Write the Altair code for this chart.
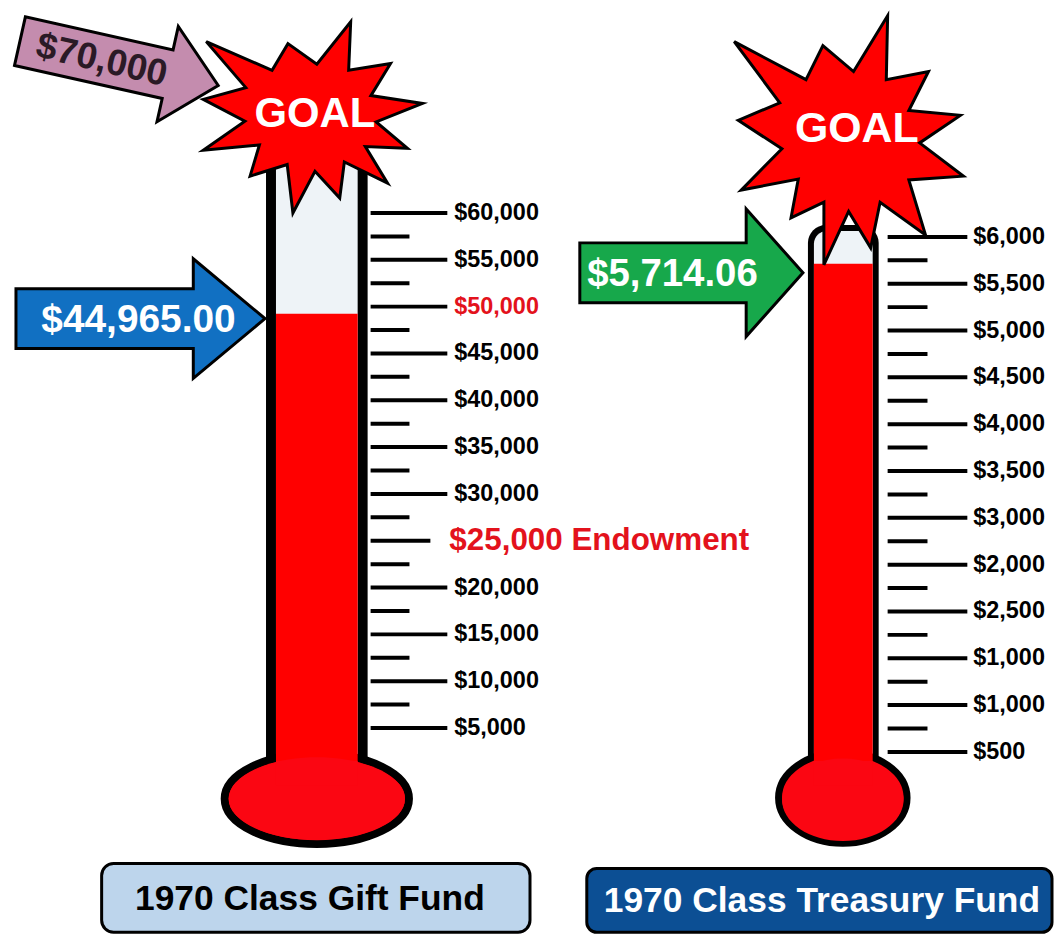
import math
import altair as alt
import pandas as pd

# ---------------------------------------------------------------- data
gift_major_values = [5000, 10000, 15000, 20000, 30000, 35000, 40000, 45000, 50000, 55000, 60000]
gift_major_labels = ["$5,000", "$10,000", "$15,000", "$20,000", "$30,000", "$35,000",
                     "$40,000", "$45,000", "$50,000", "$55,000", "$60,000"]
gift_minor_values = [7500, 12500, 17500, 22500, 27500, 32500, 37500, 42500, 47500, 52500, 57500]
gift_red_label = "$50,000"
gift_endowment_value = [25000]
gift_endowment_label = ["$25,000 Endowment"]
gift_fill_level = [49250]
gift_amount_label = ["$44,965.00"]
gift_goal_label = ["$70,000"]
gift_title = ["1970 Class Gift Fund"]

treasury_major_values = [500, 1000, 1500, 2000, 2500, 3000, 3500, 4000, 4500, 5000, 5500, 6000]
treasury_major_labels = ["$500", "$1,000", "$1,000", "$2,500", "$2,000", "$3,000",
                         "$3,500", "$4,000", "$4,500", "$5,000", "$5,500", "$6,000"]
treasury_minor_values = [750, 1250, 1750, 2250, 2750, 3250, 3750, 4250, 4750, 5250, 5750]
treasury_fill_level = [5714.06]
treasury_amount_label = ["$5,714.06"]
treasury_title = ["1970 Class Treasury Fund"]

goal_text = "GOAL"

# ---------------------------------------------------------------- layout
W, H, M = 1046, 918, 8
FONT = "Liberation Sans"
RED = "#ff0000"
BULB = "#fb0612"
GLASS = "#eef3f7"
LABEL_SIZE = 23.5

px_x = alt.Scale(domain=[M, M + W], nice=False, zero=False)
px_y = alt.Scale(domain=[M, M + H], reverse=True, nice=False, zero=False)


def dollar_scale(v_hi, y_hi, v_lo, y_lo):
    k = (y_lo - y_hi) / (v_hi - v_lo)
    top = v_hi + (y_hi - M) / k
    bottom = v_lo - (M + H - y_lo) / k
    return alt.Scale(domain=[bottom, top], nice=False, zero=False)


gift_scale = dollar_scale(60000, 210, 5000, 727)
treasury_scale = dollar_scale(6000, 234, 500, 751)


def X(field="x"):
    return alt.X(f"{field}:Q", scale=px_x, axis=None)


def Y(field="y"):
    return alt.Y(f"{field}:Q", scale=px_y, axis=None)


def rect(x1, x2, y1, y2, **kw):
    df = pd.DataFrame({"x": [x1], "x2": [x2], "y": [y1], "y2": [y2]})
    return alt.Chart(df).mark_rect(**kw).encode(x=X(), x2="x2:Q", y=Y(), y2="y2:Q")


def polygon(points, **kw):
    df = pd.DataFrame({"x": [p[0] for p in points], "y": [p[1] for p in points],
                       "i": list(range(len(points)))})
    return alt.Chart(df).mark_line(interpolate="linear-closed", strokeJoin="miter", **kw).encode(
        x=X(), y=Y(), order="i:Q")


def text(label, x, y, **kw):
    df = pd.DataFrame({"x": [x], "y": [y], "t": label})
    return alt.Chart(df).mark_text(font=FONT, fontWeight="bold", **kw).encode(x=X(), y=Y(), text="t:N")


def ellipse(cx, cy, width, ratio, **kw):
    path = f"M-1,0A1,{ratio},0,1,1,1,0A1,{ratio},0,1,1,-1,0Z"
    df = pd.DataFrame({"x": [cx], "y": [cy]})
    return alt.Chart(df).mark_point(shape=path, size=width * width, filled=True, opacity=1, **kw).encode(
        x=X(), y=Y())


def arrow(tail, tip, shaft_half, head_half, head_len):
    ux, uy = tip[0] - tail[0], tip[1] - tail[1]
    L = math.hypot(ux, uy)
    ux, uy = ux / L, uy / L
    nx, ny = -uy, ux
    bx, by = tip[0] - ux * head_len, tip[1] - uy * head_len
    return [
        (tail[0] + nx * shaft_half, tail[1] + ny * shaft_half),
        (bx + nx * shaft_half, by + ny * shaft_half),
        (bx + nx * head_half, by + ny * head_half),
        tip,
        (bx - nx * head_half, by - ny * head_half),
        (bx - nx * shaft_half, by - ny * shaft_half),
        (tail[0] - nx * shaft_half, tail[1] - ny * shaft_half),
    ]


def star(center, tips, depth):
    cx, cy = center
    pts = []
    n = len(tips)
    for i in range(n):
        a, b = tips[i], tips[(i + 1) % n]
        pts.append(a)
        mx, my = (a[0] + b[0]) / 2, (a[1] + b[1]) / 2
        pts.append((cx + depth * (mx - cx), cy + depth * (my - cy)))
    return pts


left_star_tips = [(200, 96), (203, 38), (285, 40), (348, 18), (388, 60), (420, 100),
                  (405, 145), (385, 180), (337, 195), (290, 210), (247, 173), (200, 147)]
right_star_tips = [(737, 117), (733, 38), (822, 42), (887, 12), (928, 68), (960, 112),
                   (963, 173), (925, 232), (870, 245), (823, 262), (790, 215), (740, 187)]

# ---------------------------------------------------------------- background decoration
back = alt.layer(
    rect(263, 365, 140, 775, color="black", cornerRadiusTopLeft=14, cornerRadiusTopRight=14),
    rect(273, 355, 145, 775, color=GLASS),
    rect(807, 878, 222, 775, color="black", cornerRadiusTopLeft=18, cornerRadiusTopRight=18),
    rect(813, 872, 228, 775, color=GLASS, cornerRadiusTopLeft=13, cornerRadiusTopRight=13),
    ellipse(314, 798, 185, 0.49, fill=BULB, stroke="black", strokeWidth=8),
    ellipse(842, 797, 129, 0.71, fill=BULB, stroke="black", strokeWidth=7),
)

# ---------------------------------------------------------------- gift thermometer (data)
gift_ticks = pd.DataFrame({
    "v": gift_major_values + gift_minor_values + gift_endowment_value,
    "x1": [368] * (len(gift_major_values) + len(gift_minor_values) + 1),
    "x2": [445] * len(gift_major_values) + [407] * len(gift_minor_values) + [428],
})
gift_lab = pd.DataFrame({
    "v": gift_major_values + gift_endowment_value,
    "t": gift_major_labels + gift_endowment_label,
    "c": ["#e3121c" if t == gift_red_label else "black" for t in gift_major_labels] + ["#e3121c"],
    "x": [452] * len(gift_major_values) + [447],
    "s": [LABEL_SIZE] * len(gift_major_values) + [31.5],
})
gift_fill = pd.DataFrame({"v": gift_fill_level, "x": [273], "x2": [355]})

gift_layer = alt.layer(
    alt.Chart(gift_fill).mark_rect(color=RED).encode(
        x=X(), x2="x2:Q", y=alt.Y("v:Q", scale=gift_scale, axis=None), y2=alt.value(768 - M)),
    alt.Chart(gift_ticks).mark_rule(color="black", strokeWidth=4).encode(
        x=X("x1"), x2="x2:Q", y=alt.Y("v:Q", scale=gift_scale, axis=None)),
    alt.Chart(gift_lab).mark_text(font=FONT, fontWeight="bold", align="left", baseline="middle").encode(
        x=X(), y=alt.Y("v:Q", scale=gift_scale, axis=None), text="t:N",
        color=alt.Color("c:N", scale=None), size=alt.Size("s:Q", scale=None)),
)

# ---------------------------------------------------------------- treasury thermometer (data)
tr_ticks = pd.DataFrame({
    "v": treasury_major_values + treasury_minor_values,
    "x1": [887] * (len(treasury_major_values) + len(treasury_minor_values)),
    "x2": [967] * len(treasury_major_values) + [927] * len(treasury_minor_values),
})
tr_lab = pd.DataFrame({"v": treasury_major_values, "t": treasury_major_labels,
                       "x": [973] * len(treasury_major_values)})
tr_fill = pd.DataFrame({"v": treasury_fill_level, "x": [813], "x2": [872]})

tr_layer = alt.layer(
    alt.Chart(tr_fill).mark_rect(color=RED).encode(
        x=X(), x2="x2:Q", y=alt.Y("v:Q", scale=treasury_scale, axis=None), y2=alt.value(765 - M)),
    alt.Chart(tr_ticks).mark_rule(color="black", strokeWidth=4).encode(
        x=X("x1"), x2="x2:Q", y=alt.Y("v:Q", scale=treasury_scale, axis=None)),
    alt.Chart(tr_lab).mark_text(font=FONT, fontWeight="bold", align="left", baseline="middle",
                                fontSize=LABEL_SIZE, color="black").encode(
        x=X(), y=alt.Y("v:Q", scale=treasury_scale, axis=None), text="t:N"),
)

# bulb interiors drawn over the tube bottoms so the red flows into the bulb
bulb_cover = alt.layer(
    ellipse(314, 798, 177, 0.47, fill=BULB, stroke=BULB, strokeWidth=0),
    ellipse(842, 799, 122, 0.68, fill=BULB, stroke=BULB, strokeWidth=0),
    rect(273, 355, 760, 785, color=BULB),
    rect(813, 872, 760, 785, color=BULB),
)

# ---------------------------------------------------------------- front decoration
front = alt.layer(
    polygon(star((310, 112), left_star_tips, 0.62), fill=RED, stroke="black", strokeWidth=3),
    polygon(star((850, 135), right_star_tips, 0.62), fill=RED, stroke="black", strokeWidth=3),
    text([goal_text], 312, 111, fontSize=42, color="white", align="center", baseline="middle"),
    text([goal_text], 856, 126, fontSize=43, color="white", align="center", baseline="middle"),
    polygon(arrow((16, 37.5), (215, 82), 25, 49, 52), fill="#c48cae", stroke="black", strokeWidth=3),
    text(gift_goal_label, 98, 57, fontSize=37, color="#2b1a26", align="center", baseline="middle", angle=13),
    polygon(arrow((12, 316), (262, 316), 30, 60, 72), fill="#1170c2", stroke="black", strokeWidth=3),
    text(gift_amount_label, 135, 317, fontSize=39, color="white", align="center", baseline="middle"),
    polygon(arrow((578, 270), (802, 270), 30, 64, 57), fill="#17a84b", stroke="black", strokeWidth=3),
    text(treasury_amount_label, 671, 271, fontSize=38.5, color="white", align="center", baseline="middle"),
    rect(98, 528, 863, 932, fill="#bdd5ec", stroke="black", strokeWidth=3, cornerRadius=12),
    text(gift_title, 307, 899, fontSize=35.5, color="black", align="center", baseline="middle"),
    rect(585, 1052, 868, 932, fill="#0c4f94", stroke="black", strokeWidth=3, cornerRadius=10),
    text(treasury_title, 602, 901, fontSize=35.5, color="white", align="left", baseline="middle"),
)

chart = alt.layer(back, gift_layer, tr_layer, bulb_cover, front).resolve_scale(y="independent").properties(
    width=W, height=H, padding=0, background="white"
).configure_view(stroke=None)

chart.save("out.html", embed_options={"renderer": "svg", "actions": False})
